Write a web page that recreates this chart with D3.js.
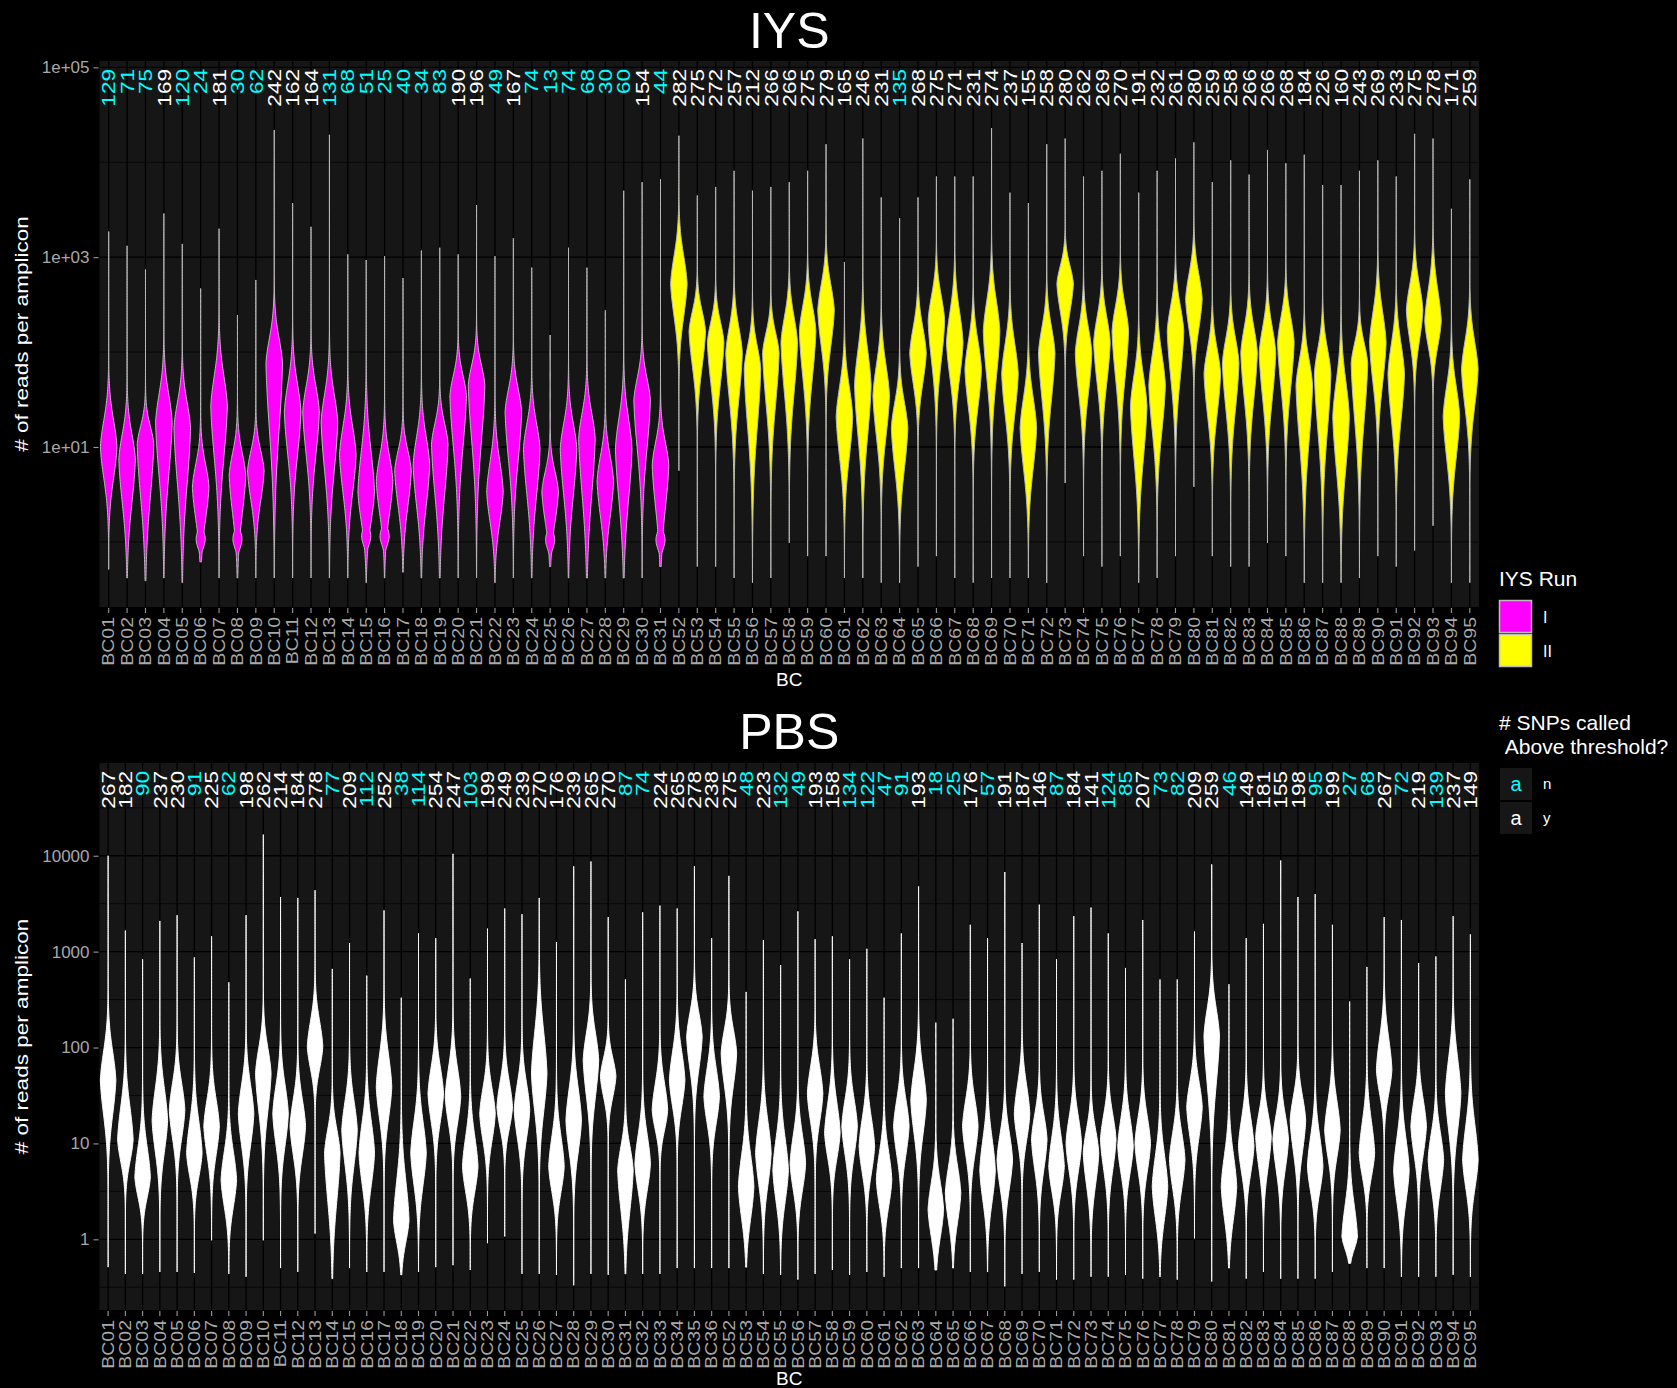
<!DOCTYPE html>
<html>
<head>
<meta charset="utf-8">
<script src="https://cdn.jsdelivr.net/npm/d3@7"></script>
<style>
  html, body { margin: 0; padding: 0; background: #000; }
  svg { display: block; }
</style>
</head>
<body>
<svg id="chart" width="1677" height="1388"></svg>
<script>
// ---------------- DATA ----------------
// IYS panel
const iysCategories = ["BC01","BC02","BC03","BC04","BC05","BC06","BC07","BC08","BC09","BC10","BC11","BC12","BC13","BC14","BC15","BC16","BC17","BC18","BC19","BC20","BC21","BC22","BC23","BC24","BC25","BC26","BC27","BC28","BC29","BC30","BC31",
  "BC52","BC53","BC54","BC55","BC56","BC57","BC58","BC59","BC60","BC61","BC62","BC63","BC64","BC65","BC66","BC67","BC68","BC69","BC70","BC71","BC72","BC73","BC74","BC75","BC76","BC77","BC78","BC79","BC80","BC81","BC82","BC83","BC84","BC85","BC86","BC87","BC88","BC89","BC90","BC91","BC92","BC93","BC94","BC95"];
const iysRun = ["I","I","I","I","I","I","I","I","I","I","I","I","I","I","I","I","I","I","I","I","I","I","I","I","I","I","I","I","I","I","I",
  "II","II","II","II","II","II","II","II","II","II","II","II","II","II","II","II","II","II","II","II","II","II","II","II","II","II","II","II","II","II","II","II","II","II","II","II","II","II","II","II","II","II","II","II"];
const iysSnpCount = [129,71,75,169,120,24,181,30,62,242,162,164,131,68,51,25,40,34,83,190,196,49,167,74,13,74,68,30,60,154,44,
  282,275,272,257,212,266,266,275,279,165,246,231,135,268,275,271,231,274,237,155,258,280,262,269,270,191,232,261,280,259,258,266,266,268,184,226,160,243,269,233,275,278,171,259];
const iysAbove = ["n","n","n","y","n","n","y","n","n","y","y","y","n","n","n","n","n","n","n","y","y","n","y","n","n","n","n","n","n","y","n",
  "y","y","y","y","y","y","y","y","y","y","y","y","n","y","y","y","y","y","y","y","y","y","y","y","y","y","y","y","y","y","y","y","y","y","y","y","y","y","y","y","y","y","y","y"];
// violin outline, log10(reads per amplicon)
const iysMaxLog = [3.27,3.12,2.87,3.46,3.14,2.67,3.30,2.39,2.76,4.34,3.57,3.32,4.29,3.03,2.97,3.01,2.78,3.07,3.10,3.03,3.55,3.01,3.20,2.89,2.18,3.10,2.89,2.44,3.70,3.79,3.82,
  4.28,3.65,3.74,3.91,3.70,3.74,3.79,3.91,4.19,2.95,4.25,3.63,3.41,3.63,3.85,3.85,3.85,4.36,3.68,3.57,4.19,4.25,3.85,3.91,4.09,3.68,3.91,4.04,4.21,3.79,4.02,3.87,4.13,3.99,4.08,3.76,3.76,3.91,4.02,3.85,4.30,4.25,3.51,3.82];
const iysMinLog = [-0.29,-0.38,-0.41,-0.38,-0.43,-0.21,-0.38,-0.38,-0.38,-0.38,-0.38,-0.38,-0.38,-0.38,-0.43,-0.38,-0.32,-0.38,-0.38,-0.38,-0.38,-0.43,-0.38,-0.38,-0.26,-0.38,-0.38,-0.38,-0.38,-0.38,-0.26,
  0.75,-0.26,-0.26,-0.38,-0.43,-0.38,-0.01,-0.15,-0.15,-0.38,-0.38,-0.43,-0.43,-0.26,-0.15,-0.38,-0.43,-0.38,-0.38,-0.38,-0.43,0.62,-0.15,-0.26,-0.15,-0.43,-0.38,-0.15,0.58,-0.15,-0.26,-0.26,-0.01,-0.15,-0.43,-0.43,-0.43,-0.38,-0.15,-0.26,-0.09,0.17,-0.43,-0.43];
const iysModeLog = [1.00,0.87,1.03,1.26,1.20,0.58,1.43,0.70,0.75,1.88,1.37,1.37,1.26,0.92,0.53,0.64,0.75,0.81,1.03,1.54,1.65,0.53,1.37,0.98,0.53,0.98,1.09,0.64,0.98,1.49,0.81,
  2.72,2.22,2.10,1.99,1.82,1.99,2.10,2.22,2.44,1.32,1.65,1.54,1.20,1.99,2.33,2.10,1.82,2.22,1.77,1.20,1.99,2.72,1.99,2.10,2.22,1.43,1.65,2.22,2.56,1.77,1.88,1.99,1.99,2.10,1.65,1.77,1.32,1.88,2.10,1.77,2.44,2.33,1.32,1.82];
const iysBodyTopLog = [1.60,1.43,1.43,1.88,1.77,1.09,2.10,1.20,1.20,2.44,1.99,1.94,1.88,1.54,1.43,1.20,1.20,1.43,1.49,1.99,2.10,1.20,1.88,1.54,0.98,1.54,1.65,1.20,1.65,1.99,1.32,
  3.34,2.67,2.56,2.56,2.33,2.44,2.67,2.78,3.01,1.99,2.44,2.22,1.77,2.56,2.89,2.78,2.44,2.89,2.44,1.88,2.56,3.12,2.56,2.67,2.78,2.10,2.33,2.78,3.12,2.33,2.44,2.56,2.56,2.67,2.22,2.33,2.10,2.33,2.78,2.44,3.01,3.01,1.99,2.44];
const iysBodyBottomLog = [0.30,-0.09,-0.15,0.08,-0.04,-0.15,0.30,-0.15,0.08,0.41,0.41,0.41,0.19,0.08,-0.15,-0.09,-0.04,-0.09,-0.09,0.41,0.41,-0.15,0.30,-0.04,-0.15,-0.04,-0.15,-0.15,-0.15,0.41,-0.15,
  1.99,1.43,1.20,0.98,0.53,0.87,0.98,1.20,1.65,0.41,0.53,0.64,0.30,1.32,1.43,1.32,0.98,1.20,0.87,0.30,0.98,2.10,1.09,1.20,1.20,0.30,0.64,1.20,1.88,0.87,0.87,0.98,0.98,1.09,0.41,0.53,0.19,0.64,1.20,0.75,1.77,1.77,0.41,0.98];
const iysBulbLog = [null,null,null,null,null,0.03,null,0.03,null,null,null,null,null,null,0.06,0.06,null,null,null,null,null,null,null,null,0.02,null,null,null,null,null,0.02,
  null,null,null,null,null,null,null,null,null,null,null,null,null,null,null,null,null,null,null,null,null,null,null,null,null,null,null,null,null,null,null,null,null,null,null,null,null,null,null,null,null,null,null,null];
const iysTickValues = [10, 1000, 100000];
const iysTickLabels = ["1e+01","1e+03","1e+05"];
const iysMinorValues = [1, 100, 10000];

// PBS panel
const pbsCategories = ["BC01","BC02","BC03","BC04","BC05","BC06","BC07","BC08","BC09","BC10","BC11","BC12","BC13","BC14","BC15","BC16","BC17","BC18","BC19","BC20","BC21","BC22","BC23","BC24","BC25","BC26","BC27","BC28","BC29","BC30","BC31","BC32","BC33","BC34","BC35","BC36",
  "BC52","BC53","BC54","BC55","BC56","BC57","BC58","BC59","BC60","BC61","BC62","BC63","BC64","BC65","BC66","BC67","BC68","BC69","BC70","BC71","BC72","BC73","BC74","BC75","BC76","BC77","BC78","BC79","BC80","BC81","BC82","BC83","BC84","BC85","BC86","BC87","BC88","BC89","BC90","BC91","BC92","BC93","BC94","BC95"];
const pbsSnpCount = [267,182,90,237,230,91,225,62,198,262,214,184,278,77,209,112,252,38,114,254,247,103,199,249,239,270,176,239,265,270,87,74,224,265,278,238,
  275,48,223,132,49,193,158,134,122,47,91,193,18,25,176,57,191,187,146,87,184,141,124,85,207,73,82,209,259,46,149,181,155,198,95,199,27,68,267,72,219,139,237,149];
const pbsAbove = ["y","y","n","y","y","n","y","n","y","y","y","y","y","n","y","n","y","n","n","y","y","n","y","y","y","y","y","y","y","y","n","n","y","y","y","y",
  "y","n","y","n","n","y","y","n","n","n","n","y","n","n","y","n","y","y","y","n","y","y","n","n","y","n","n","y","y","n","y","y","y","y","n","y","n","n","y","n","y","n","y","y"];
const pbsMaxLog = [4.00,3.22,2.92,3.32,3.38,2.94,3.16,2.68,3.38,4.22,3.57,3.56,3.64,2.82,3.09,2.75,3.43,2.52,3.19,3.14,4.02,2.72,3.24,3.45,3.39,3.56,3.10,3.89,3.94,3.36,2.71,3.41,3.48,3.45,3.89,3.14,
  3.79,2.58,3.12,2.86,3.42,3.13,3.16,2.92,3.03,2.52,3.19,3.68,2.26,2.30,3.28,3.14,3.83,3.09,3.49,2.92,3.37,3.46,3.19,2.83,3.33,2.71,2.71,3.21,3.91,2.66,3.14,3.29,3.95,3.57,3.60,3.28,2.48,2.84,3.36,3.33,2.88,2.95,3.37,3.18];
const pbsMinLog = [-0.29,-0.36,-0.36,-0.34,-0.34,-0.35,-0.01,-0.36,-0.39,-0.01,-0.30,-0.34,0.06,-0.41,-0.30,-0.34,-0.34,-0.37,-0.34,-0.29,-0.27,-0.32,-0.04,0.03,-0.36,-0.36,-0.37,-0.48,-0.36,-0.37,-0.36,-0.36,-0.36,-0.30,-0.30,-0.30,
  -0.30,-0.29,-0.36,-0.37,-0.42,-0.36,-0.32,-0.37,-0.34,-0.39,-0.30,-0.30,-0.32,-0.30,-0.34,-0.34,-0.49,-0.36,-0.34,-0.42,-0.42,-0.39,-0.39,-0.37,-0.41,-0.39,-0.42,0.01,-0.44,-0.30,-0.41,-0.34,-0.41,-0.41,-0.41,-0.34,-0.25,-0.30,-0.30,-0.39,-0.39,-0.39,-0.37,-0.39];
const pbsModeLog = [1.66,1.04,0.65,1.24,1.35,0.90,1.18,0.62,1.31,1.73,1.31,1.18,2.01,0.90,1.14,0.90,1.59,0.20,0.90,1.52,1.49,0.76,1.31,1.38,1.35,1.73,0.76,1.24,1.87,1.70,0.72,0.79,1.35,1.66,2.11,1.49,
  1.94,0.55,0.90,0.72,0.79,1.52,1.11,1.18,0.97,0.62,1.18,1.45,0.31,0.48,1.18,0.72,0.83,1.31,1.04,0.76,1.00,0.90,1.04,0.97,1.00,0.55,0.83,1.38,2.12,0.55,0.97,1.07,1.04,1.24,0.76,1.14,0.03,0.90,1.77,0.72,1.18,0.83,1.52,0.83];
const pbsBodyTopLog = [2.29,1.77,1.31,1.94,1.94,1.59,1.77,1.24,1.94,2.29,1.94,1.77,2.57,1.42,1.77,1.59,2.29,1.07,1.59,2.11,2.11,1.42,1.87,1.94,1.94,2.63,1.42,1.94,2.46,2.11,1.24,1.42,1.94,2.29,2.63,2.11,
  2.46,1.24,1.59,1.42,1.42,2.11,1.77,1.77,1.59,1.24,1.77,2.11,0.90,1.07,1.77,1.42,1.42,1.94,1.59,1.42,1.59,1.42,1.59,1.59,1.59,1.24,1.42,1.94,2.72,1.24,1.59,1.59,1.59,1.77,1.42,1.77,0.72,1.59,2.46,1.42,1.77,1.42,2.29,1.59];
const pbsBodyBottomLog = [0.90,0.55,0.20,0.55,0.72,0.38,0.55,0.03,0.62,0.90,0.62,0.55,1.52,-0.15,0.38,0.20,0.90,-0.29,0.20,0.90,0.90,0.20,0.72,0.90,0.72,0.90,0.20,0.55,1.07,1.24,-0.15,0.20,0.90,1.07,1.42,0.90,
  1.24,-0.15,0.20,0.03,0.20,0.90,0.55,0.55,0.38,0.03,0.55,0.72,-0.29,-0.15,0.55,0.03,0.20,0.72,0.38,0.20,0.38,0.20,0.38,0.38,0.38,-0.15,0.20,0.72,1.07,-0.15,0.38,0.38,0.38,0.55,0.20,0.55,-0.25,0.38,1.24,0.03,0.55,0.20,0.72,0.20];
const pbsTickValues = [1, 10, 100, 1000, 10000];
const pbsTickLabels = ["1","10","100","1000","10000"];
const pbsMinorValues = [0.316228, 3.16228, 31.6228, 316.228, 3162.28, 31622.8];

// legend
const runLevels = ["I","II"];
const runColors = ["#FF00FF","#FFFF00"];
const aboveLevels = ["n","y"];
const aboveColors = ["#00FFFF","#FFFFFF"];

// ---------------- DRAWING ----------------
const FONT = "'Liberation Sans', Arial, Helvetica, sans-serif";
const STRETCH = 1.22; // rotated text in the reference is elongated
const svg = d3.select("#chart");
svg.append("rect").attr("width",1677).attr("height",1388).attr("fill","#000");

const runColor = d3.scaleOrdinal().domain(runLevels).range(runColors);
const aboveColor = d3.scaleOrdinal().domain(aboveLevels).range(aboveColors);

function profileWidth(v, m, up, lo, bulb) {
  const s = v >= m ? Math.max((up - m) / 2, 0.05) : Math.max((m - lo) / 2, 0.05);
  const z = (v - m) / s;
  let f = 0.82 * Math.exp(-0.5 * z * z) + 0.18 * Math.exp(-1.1 * Math.abs(z));
  if (bulb !== null && bulb !== undefined) {
    const zb = (v - bulb) / 0.09;
    f = Math.max(f, 0.55 * Math.exp(-0.5 * zb * zb));
  }
  return f;
}

function drawPanel(p) {
  const g = svg.append("g");
  const x = d3.scaleBand().domain(p.cats).range([p.left, p.right]).padding(0);
  const y = d3.scaleLog().domain([Math.pow(10, p.domainLog[0]), Math.pow(10, p.domainLog[1])]).range([p.bottom, p.top]);

  g.append("rect").attr("x", p.left).attr("y", p.top)
    .attr("width", p.right - p.left).attr("height", p.bottom - p.top).attr("fill", "#161616");

  g.selectAll("line.minor").data(p.minor).join("line").attr("class","minor")
    .attr("x1", p.left).attr("x2", p.right).attr("y1", d => y(d)).attr("y2", d => y(d))
    .attr("stroke", "#000").attr("stroke-width", 0.7);
  g.selectAll("line.major").data(p.ticks).join("line").attr("class","major")
    .attr("x1", p.left).attr("x2", p.right).attr("y1", d => y(d)).attr("y2", d => y(d))
    .attr("stroke", "#000").attr("stroke-width", 1.3);
  g.selectAll("line.vgrid").data(p.cats).join("line").attr("class","vgrid")
    .attr("x1", d => x(d) + x.bandwidth()/2).attr("x2", d => x(d) + x.bandwidth()/2)
    .attr("y1", p.top).attr("y2", p.bottom)
    .attr("stroke", "#000").attr("stroke-width", 1.3);

  // violins
  const hw = x.bandwidth() * 0.45;
  p.cats.forEach((c, i) => {
    const cx = x(c) + x.bandwidth() / 2;
    const lo = p.minL[i], hi = p.maxL[i];
    const n = 220;
    const prof = d3.range(n + 1).map(k => {
      const v = lo + (hi - lo) * k / n;
      return { v, h: hw * profileWidth(v, p.modeL[i], p.upL[i], p.loL[i], p.bulbL ? p.bulbL[i] : null) };
    });
    const area = d3.area()
      .x0(d => cx - d.h).x1(d => cx + d.h)
      .y(d => y(Math.pow(10, d.v)));
    g.append("path").attr("d", area(prof))
      .attr("fill", p.fill(i)).attr("stroke", p.stroke).attr("stroke-width", 1.0)
      .attr("stroke-linejoin", "round");
  });

  // count labels
  const fsC = 18.5;
  p.cats.forEach((c, i) => {
    const cx = x(c) + x.bandwidth() / 2;
    g.append("text")
      .attr("transform", `translate(${cx + 0.36 * fsC},${p.top + 8}) scale(1,${STRETCH}) rotate(-90)`)
      .attr("text-anchor", "end")
      .attr("font-family", FONT).attr("font-size", fsC)
      .attr("fill", aboveColor(p.above[i]))
      .text(p.counts[i]);
  });

  // y axis
  const yAxis = d3.axisLeft(y).tickValues(p.ticks)
    .tickFormat((d, i) => p.tickLabels[i]).tickSize(5).tickPadding(4);
  const ga = g.append("g").attr("transform", `translate(${p.left - 1},0)`).call(yAxis);
  ga.select(".domain").remove();
  ga.selectAll(".tick line").attr("stroke", "#9a9a9a").attr("stroke-width", 1.1);
  ga.selectAll(".tick text").attr("fill", "#a8a8a8").attr("font-family", FONT).attr("font-size", 17);

  // x axis
  const xAxis = d3.axisBottom(x).tickSize(5).tickFormat("");
  const gx = g.append("g").attr("transform", `translate(0,${p.bottom + 1})`).call(xAxis);
  gx.select(".domain").remove();
  gx.selectAll(".tick line").attr("stroke", "#9a9a9a").attr("stroke-width", 1.1);
  const fsX = 16;
  p.cats.forEach(c => {
    const cx = x(c) + x.bandwidth() / 2;
    g.append("text")
      .attr("transform", `translate(${cx + 0.36 * fsX},${p.bottom + 10}) scale(1,${STRETCH}) rotate(-90)`)
      .attr("text-anchor", "end")
      .attr("font-family", FONT).attr("font-size", fsX)
      .attr("fill", "#a8a8a8")
      .text(c);
  });

  // titles
  const midX = (p.left + p.right) / 2;
  g.append("text").attr("x", midX).attr("y", p.titleY).attr("text-anchor", "middle")
    .attr("font-family", FONT).attr("font-size", 50).attr("fill", "#fff").text(p.title);
  g.append("text").attr("x", midX).attr("y", p.xTitleY).attr("text-anchor", "middle")
    .attr("font-family", FONT).attr("font-size", 19).attr("fill", "#fff").text("BC");
  g.append("text")
    .attr("transform", `translate(28,${(p.top + p.bottom) / 2}) scale(1,${STRETCH}) rotate(-90)`)
    .attr("text-anchor", "middle")
    .attr("font-family", FONT).attr("font-size", 18.5).attr("fill", "#fff")
    .text("# of reads per amplicon");
}

drawPanel({
  cats: iysCategories, counts: iysSnpCount, above: iysAbove,
  maxL: iysMaxLog, minL: iysMinLog, modeL: iysModeLog, upL: iysBodyTopLog, loL: iysBodyBottomLog, bulbL: iysBulbLog,
  left: 99.5, right: 1479, top: 61, bottom: 607, domainLog: [-0.686, 5.067],
  ticks: iysTickValues, tickLabels: iysTickLabels, minor: iysMinorValues,
  fill: i => runColor(iysRun[i]), stroke: "#bdbdbd",
  title: "IYS", titleY: 48, xTitleY: 686
});

drawPanel({
  cats: pbsCategories, counts: pbsSnpCount, above: pbsAbove,
  maxL: pbsMaxLog, minL: pbsMinLog, modeL: pbsModeLog, upL: pbsBodyTopLog, loL: pbsBodyBottomLog, bulbL: null,
  left: 99.5, right: 1479, top: 763, bottom: 1310, domainLog: [-0.737, 4.967],
  ticks: pbsTickValues, tickLabels: pbsTickLabels, minor: pbsMinorValues,
  fill: i => "#ffffff", stroke: "#ffffff",
  title: "PBS", titleY: 749, xTitleY: 1385
});

// ---------------- LEGENDS ----------------
const lg = svg.append("g");
lg.append("text").attr("x", 1499).attr("y", 586).attr("font-family", FONT).attr("font-size", 21)
  .attr("fill", "#fff").text("IYS Run");
runLevels.forEach((r, i) => {
  lg.append("rect").attr("x", 1499.5).attr("y", 600.5 + i * 34).attr("width", 32).attr("height", 32)
    .attr("fill", runColor(r)).attr("stroke", "#bdbdbd").attr("stroke-width", 1.5);
  lg.append("text").attr("x", 1543).attr("y", 617 + i * 34).attr("dy", "0.35em")
    .attr("font-family", FONT).attr("font-size", 16).attr("fill", "#fff").text(r);
});
lg.append("text").attr("x", 1499).attr("y", 730).attr("font-family", FONT).attr("font-size", 21)
  .attr("fill", "#fff").text("# SNPs called");
lg.append("text").attr("x", 1499).attr("y", 754).attr("font-family", FONT).attr("font-size", 21)
  .attr("fill", "#fff").attr("xml:space", "preserve").text("\u00a0Above threshold?");
aboveLevels.forEach((a, i) => {
  lg.append("rect").attr("x", 1500).attr("y", 768 + i * 34).attr("width", 32).attr("height", 32)
    .attr("fill", "#161616");
  lg.append("text").attr("x", 1516).attr("y", 784 + i * 34).attr("dy", "0.35em").attr("text-anchor", "middle")
    .attr("font-family", FONT).attr("font-size", 20).attr("fill", aboveColor(a)).text("a");
  lg.append("text").attr("x", 1543).attr("y", 784 + i * 34).attr("dy", "0.35em")
    .attr("font-family", FONT).attr("font-size", 15).attr("fill", "#fff").text(a);
});
</script>
</body>
</html>
